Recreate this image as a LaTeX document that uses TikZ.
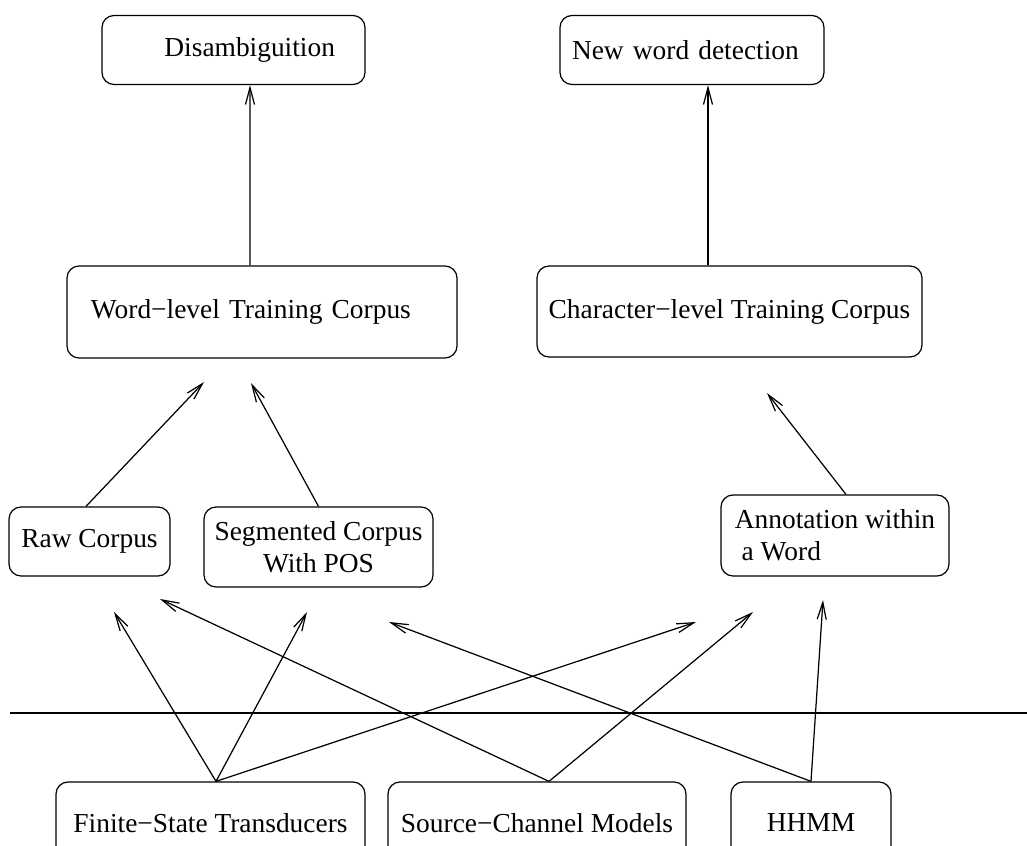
\documentclass[tikz,border=0pt]{standalone}
\usepackage{fontspec}
\setmainfont{Liberation Serif}
\usetikzlibrary{arrows.meta}
\tikzset{
  box/.style={draw, rounded corners=1.2mm, line width=0.35pt, inner xsep=0pt, inner ysep=0pt,
    align=left, minimum height=0.69cm, font=\fontsize{7.8}{9.1}\selectfont},
  arr/.style={line width=0.35pt, -{Straight Barb[length=1.7mm,width=0.9mm]}}
}
\begin{document}
\begin{tikzpicture}
\useasboundingbox (0,0) rectangle (10.27,8.45);

%top row
\node[box, minimum width=2.63cm, text width=2.03cm, inner xsep=0.30cm, align=right] (dis) at (2.335,7.95) {Disambiguition};
\node[box, minimum width=2.64cm, text width=2.40cm, inner xsep=0.12cm] (nwd) at (6.92,7.95) {New word detection};

%training corpus
\node[box, minimum width=3.90cm, minimum height=0.92cm, text width=3.42cm, inner xsep=0.24cm] (wlc) at (2.62,5.33) {Word−level Training Corpus};
\node[box, minimum width=3.85cm, minimum height=0.91cm, align=center] (clc) at (7.295,5.335) {Character−level Training Corpus};

%annotated data
\node[box, minimum width=1.61cm] (raw) at (0.895,3.035) {Raw Corpus};
\node[box, minimum width=2.29cm, minimum height=0.80cm, align=center] (seg) at (3.185,2.98) {Segmented Corpus\\With POS};
\node[box, minimum width=2.28cm, minimum height=0.81cm] (ann) at (8.35,3.095) {Annotation within\\\hspace*{0.25em}a Word};

%models (cut by the page edge)
\node[box, minimum width=3.09cm, minimum height=0.82cm] (fst) at (2.105,0.22) {Finite−State Transducers};
\node[box, minimum width=2.98cm, minimum height=0.82cm] (scm) at (5.37,0.22) {Source−Channel Models};
\node[box, minimum width=1.60cm, minimum height=0.82cm] (hhmm) at (8.11,0.22) {HHMM};

\draw[line width=0.35pt] (0.10,1.32) -- (10.27,1.32); %separator

%start points
\coordinate (fst top) at ([xshift=0.55mm]fst.north);
\coordinate (scm top) at ([xshift=1.2mm]scm.north);
\coordinate (hhmm top) at (hhmm.north);
\coordinate (raw top) at ([xshift=-0.35mm]raw.north);
\coordinate (seg top) at (seg.north);
\coordinate (ann top) at ([xshift=1.1mm]ann.north);
\coordinate (wlc top) at ([xshift=-1.2mm]wlc.north);
\coordinate (clc top) at ([xshift=-2.15mm]clc.north);

%free arrow ends
\coordinate (raw in1) at (1.14,2.33);
\coordinate (raw in2) at (1.60,2.46);
\coordinate (seg in1) at (3.07,2.33);
\coordinate (seg in2) at (3.89,2.23);
\coordinate (ann in1) at (6.96,2.23);
\coordinate (ann in2) at (7.53,2.33);
\coordinate (ann in3) at (8.23,2.45);
\coordinate (wlc in1) at (2.04,4.63);
\coordinate (wlc in2) at (2.51,4.62);
\coordinate (clc in1) at (7.67,4.52);

\draw[arr] (fst top) -- (raw in1);
\draw[arr] (fst top) -- (seg in1);
\draw[arr] (fst top) -- (ann in1);
\draw[arr] (scm top) -- (raw in2);
\draw[arr] (scm top) -- (ann in2);
\draw[arr] (hhmm top) -- (seg in2);
\draw[arr] (hhmm top) -- (ann in3);

\draw[arr] (raw top) -- (wlc in1);
\draw[arr] (seg top) -- (wlc in2);
\draw[arr] (ann top) -- (clc in1);

\draw[arr] (wlc top) -- ([xshift=1.65mm]dis.south);
\draw[arr] (clc top) -- ([xshift=1.6mm]nwd.south);

\end{tikzpicture}
\end{document}
